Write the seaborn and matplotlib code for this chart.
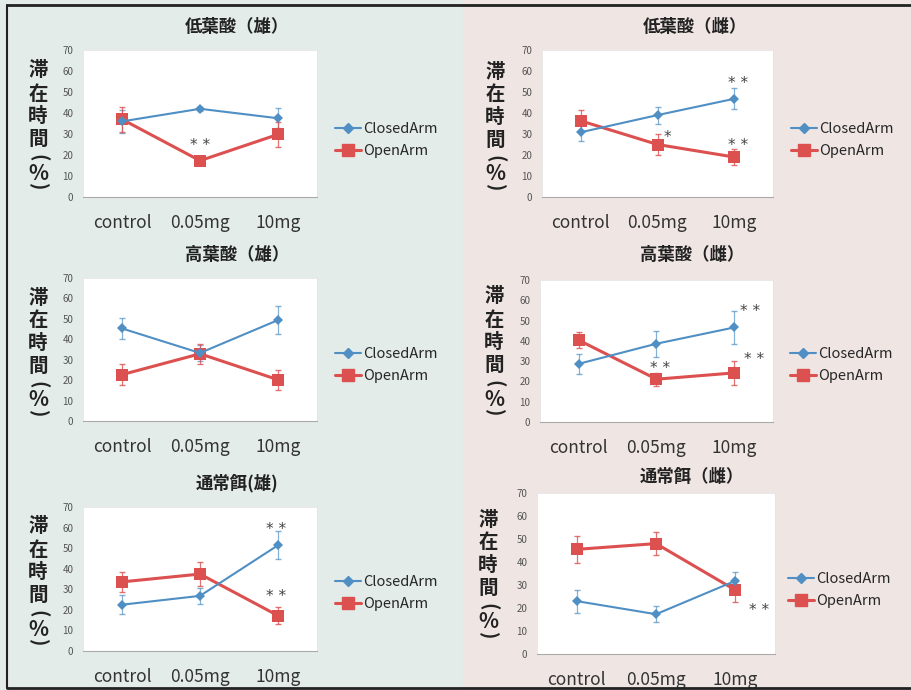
import numpy as np
import pandas as pd
import matplotlib
matplotlib.use("Agg")
import matplotlib.pyplot as plt
from matplotlib.lines import Line2D
from matplotlib.patches import Rectangle
import seaborn as sns

sns.set_theme(style="white")
plt.rcParams["font.family"] = ["Noto Sans CJK JP", "DejaVu Sans"]

# data
doses = ["control", "0.05mg", "10mg"]
series_names = ["ClosedArm", "OpenArm"]
titles = ["低葉酸（雄）", "低葉酸（雌）", "高葉酸（雄）", "高葉酸（雌）", "通常餌(雄)", "通常餌（雌）"]

closed_mean = [
    [36, 42, 37.5],
    [30.8, 39, 46.8],
    [45.3, 33.3, 49.4],
    [28.7, 38.6, 46.6],
    [22.5, 26.8, 51.4],
    [23, 17.3, 31.8],
]
closed_err = [
    [5.5, 1, 4.8],
    [4, 4, 5],
    [5, 4, 6.8],
    [4.8, 6.4, 8],
    [4.5, 4, 6.8],
    [5, 3.5, 4],
]
open_mean = [
    [37, 17.3, 29.8],
    [36.3, 25, 19],
    [22.7, 32.9, 20.2],
    [40.3, 21.1, 24.2],
    [33.6, 37.4, 17.2],
    [45.5, 48, 27.8],
]
open_err = [
    [6, 1.5, 6],
    [5, 5, 3.8],
    [5.3, 5, 5],
    [4, 3.3, 6],
    [4.7, 6, 4.3],
    [6, 5, 5],
]

# significance marks: (panel, x position, y value, text)
stars = [
    (0, 1.0, 24.5, "**"),
    (1, 1.13, 28.5, "*"),
    (1, 2.05, 54, "**"),
    (1, 2.05, 24.5, "**"),
    (3, 2.2, 54.5, "**"),
    (3, 1.05, 26.5, "**"),
    (3, 2.25, 31, "**"),
    (4, 1.97, 59, "**"),
    (4, 1.97, 26.5, "**"),
    (5, 2.3, 19, "**"),
]

W, H = 912, 690
blue = "#4f8fc4"
red = "#dc5050"

# plot area boxes in pixels (x0, y0, x1, y1)
boxes = [
    (83, 50, 317, 197),
    (542, 50, 773, 197),
    (83, 278, 317, 421),
    (540, 280, 773, 422),
    (83, 507, 317, 651),
    (537, 493, 775, 654),
]
title_pos = [(237, 27), (695, 27), (237, 255), (692, 255), (237, 483), (692, 477)]
legend_pos = [(335, 140), (791, 140), (335, 365), (790, 365), (335, 593), (788, 590)]
ylab_pos = [(38, 71), (495, 72), (38, 298), (494, 297), (38, 527), (488, 520)]
# (char, vertical offset, rotation)
ylab_chars = [("滞", 0, 0), ("在", 23, 0), ("時", 45, 0), ("間", 68, 0),
              ("(", 87, -90), ("%", 102, 0), (")", 116, -90)]

fig = plt.figure(figsize=(W / 100, H / 100), dpi=100)

def fx(x):
    return x / W

def fy(y):
    return 1 - y / H

# backgrounds and frame
fig.patches.append(Rectangle((0, 0), fx(463), 1, transform=fig.transFigure,
                             color="#e3ece9", zorder=-10))
fig.patches.append(Rectangle((fx(463), 0), 1 - fx(463), 1, transform=fig.transFigure,
                             color="#efe5e3", zorder=-10))
fig.lines.append(Line2D([fx(7), 1], [fy(5), fy(5)], transform=fig.transFigure,
                        color="#222222", lw=2))
fig.lines.append(Line2D([fx(7), fx(7)], [fy(5), fy(688)], transform=fig.transFigure,
                        color="#222222", lw=1.5))
fig.lines.append(Line2D([fx(7), 1], [fy(688), fy(688)], transform=fig.transFigure,
                        color="#222222", lw=2))

for i in range(6):
    x0, y0, x1, y1 = boxes[i]
    ax = fig.add_axes([fx(x0), fy(y1), (x1 - x0) / W, (y1 - y0) / H])
    ax.set_facecolor("white")

    df = pd.DataFrame({
        "pos": [0, 1, 2, 0, 1, 2],
        "value": closed_mean[i] + open_mean[i],
        "series": ["ClosedArm"] * 3 + ["OpenArm"] * 3,
    })
    sns.lineplot(data=df[df.series == "OpenArm"], x="pos", y="value", color=red,
                 marker="s", markersize=9, markeredgewidth=0, lw=2.2, ax=ax,
                 legend=False, zorder=3)
    sns.lineplot(data=df[df.series == "ClosedArm"], x="pos", y="value", color=blue,
                 marker="D", markersize=5, markeredgewidth=0, lw=1.5, ax=ax,
                 legend=False, zorder=4)
    ax.errorbar([0, 1, 2], closed_mean[i], yerr=closed_err[i], fmt="none",
                ecolor=blue, elinewidth=0.9, capsize=2.5, alpha=0.7, zorder=2)
    ax.errorbar([0, 1, 2], open_mean[i], yerr=open_err[i], fmt="none",
                ecolor=red, elinewidth=0.9, capsize=2.5, alpha=0.8, zorder=2)

    ax.set_xlim(-0.5, 2.5)
    ax.set_ylim(0, 70)
    ax.set_yticks(range(0, 71, 10))
    ax.tick_params(axis="y", length=0, pad=7, labelsize=7, labelcolor="#555555")
    ax.set_xticks([0, 1, 2])
    ax.set_xticklabels(doses, fontsize=12.5, color="#333333")
    ax.tick_params(axis="x", which="major", length=0, pad=12)
    ax.set_xticks([-0.5, 0.5, 1.5, 2.5], minor=True)
    ax.tick_params(axis="x", which="minor", length=3, color="#aaaaaa", direction="out")
    ax.set_xlabel("")
    ax.set_ylabel("")
    for side in ["top", "right", "left"]:
        ax.spines[side].set_color("#e4e4e4")
        ax.spines[side].set_linewidth(0.6)
    ax.spines["bottom"].set_color("#aaaaaa")
    ax.spines["bottom"].set_linewidth(0.8)

    for p, sx, sy, txt in stars:
        if p == i:
            ax.text(sx, sy, " ".join(txt), ha="center", va="center", fontsize=11,
                    color="#444444", zorder=5, family="DejaVu Sans")

    handles = [
        Line2D([], [], color=blue, marker="D", markersize=5, lw=1.5),
        Line2D([], [], color=red, marker="s", markersize=8, lw=2.2),
    ]
    lx, ly = legend_pos[i]
    ax.legend(handles, series_names, loc="center left",
              bbox_to_anchor=(fx(lx), fy(ly)), bbox_transform=fig.transFigure,
              frameon=False, fontsize=10.5, handlelength=1.8, handletextpad=0.1,
              labelspacing=0.55, borderpad=0, borderaxespad=0)

    tx, ty = title_pos[i]
    fig.text(fx(tx), fy(ty), titles[i], ha="center", va="center", fontsize=12.5,
             fontweight="bold", color="#222222")

    yx, yy = ylab_pos[i]
    for ch, st, rot in ylab_chars:
        fig.text(fx(yx), fy(yy + st), ch, ha="center", va="center",
                 fontsize=15 if ch == "%" else 14, rotation=rot,
                 rotation_mode="anchor", fontweight="bold", color="#222222")

fig.savefig("out.png", dpi=100)
